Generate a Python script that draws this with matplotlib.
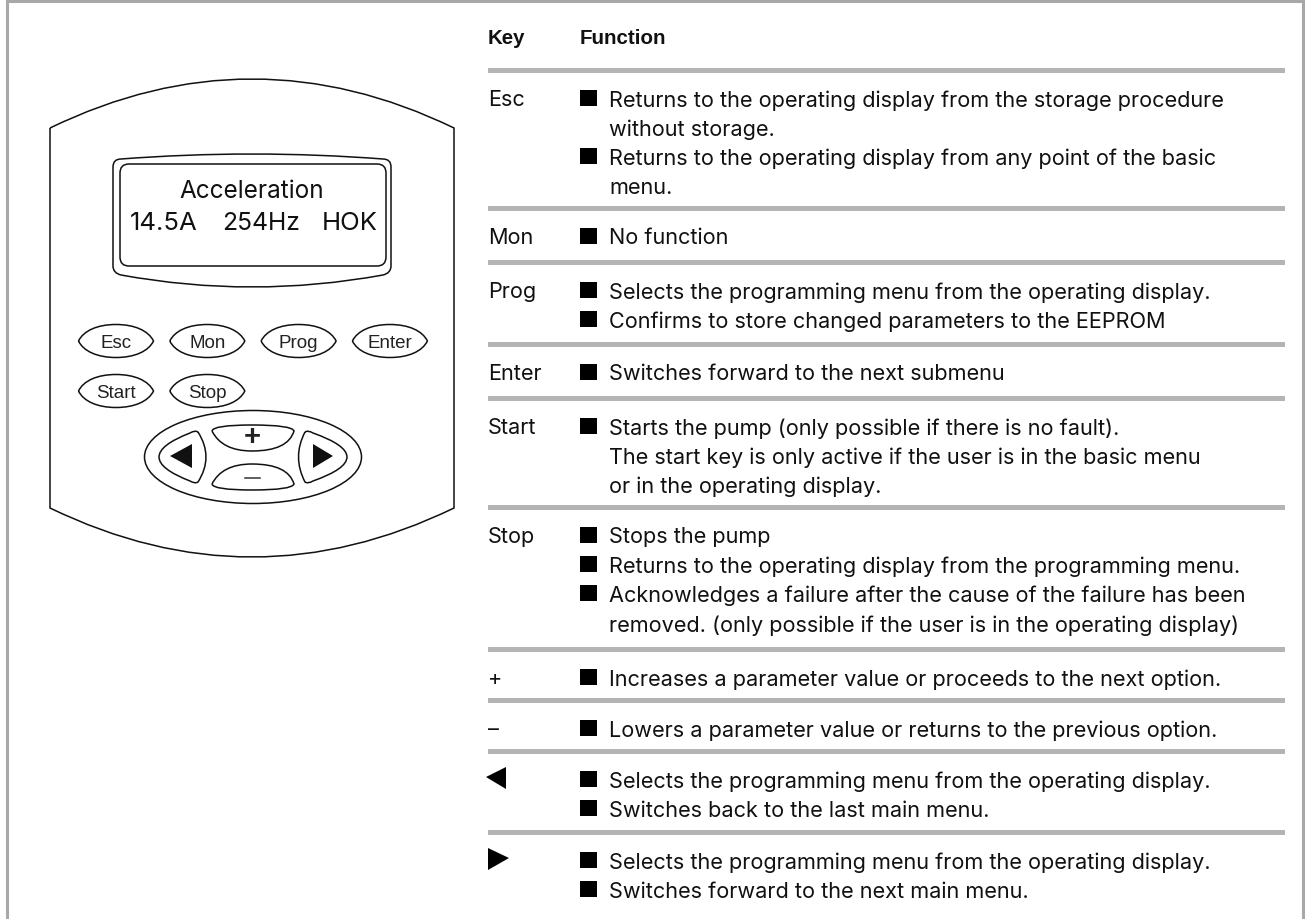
import matplotlib
matplotlib.use('Agg')
import matplotlib.pyplot as plt
from matplotlib.patches import PathPatch, Rectangle, Polygon, Ellipse, FancyBboxPatch
from matplotlib.path import Path

# table content
keys = ['Esc', 'Mon', 'Prog', 'Enter', 'Start', 'Stop', '+', '–', 'left', 'right']
functions = [
    [(1, 'Returns to the operating display from the storage procedure'),
     (0, 'without storage.'),
     (1, 'Returns to the operating display from any point of the basic'),
     (0, 'menu.')],
    [(1, 'No function')],
    [(1, 'Selects the programming menu from the operating display.'),
     (1, 'Confirms to store changed parameters to the EEPROM')],
    [(1, 'Switches forward to the next submenu')],
    [(1, 'Starts the pump (only possible if there is no fault).'),
     (0, 'The start key is only active if the user is in the basic menu'),
     (0, 'or in the operating display.')],
    [(1, 'Stops the pump'),
     (1, 'Returns to the operating display from the programming menu.'),
     (1, 'Acknowledges a failure after the cause of the failure has been'),
     (0, 'removed. (only possible if the user is in the operating display)')],
    [(1, 'Increases a parameter value or proceeds to the next option.')],
    [(1, 'Lowers a parameter value or returns to the previous option.')],
    [(1, 'Selects the programming menu from the operating display.'),
     (1, 'Switches back to the last main menu.')],
    [(1, 'Selects the programming menu from the operating display.'),
     (1, 'Switches forward to the next main menu.')],
]
button_rows = [['Esc', 'Mon', 'Prog', 'Enter'], ['Start', 'Stop']]

# layout in pixels
rule_y = [71, 209, 263, 345, 399, 508, 650, 701, 752, 833]
pitch = 29.3
GREY = '#b4b4b4'
FONT = 'Liberation Sans'
BODY = 'Inter'

fig = plt.figure(figsize=(13.05, 9.2), dpi=100)
ax = fig.add_axes([0, 0, 1, 1])
ax.set_xlim(0, 1305)
ax.set_ylim(920, 0)
ax.axis('off')

# frame, open at the bottom
ax.plot([7, 7, 1303, 1303], [920, 2, 2, 920], color='#a8a8a8', lw=2.2, solid_joinstyle='miter')


def shape(verts, codes, fc='none', lw=1.1):
    ax.add_patch(PathPatch(Path(verts, codes), fc=fc, ec='#111111', lw=lw))


M, C3, C4, L = Path.MOVETO, Path.CURVE3, Path.CURVE4, Path.LINETO

# housing
shape([(50, 129), (252, 31), (454, 129), (454, 509), (252, 607), (50, 509), (50, 129)],
      [M, C3, C3, L, C3, C3, L])

# display
shape([(121, 160), (252, 150), (383, 160), (391, 160), (391, 168), (391, 267),
       (391, 274), (383, 276), (252, 300), (121, 276), (113, 274), (113, 267),
       (113, 168), (113, 160), (121, 160)],
      [M, C3, C3, C3, C3, L, C3, C3, C3, C3, C3, C3, L, C3, C3])
ax.add_patch(FancyBboxPatch((127, 172), 252, 88, boxstyle='round,pad=7,rounding_size=9',
                            fc='none', ec='#111111', lw=1.1))
ax.text(252, 191, 'Acceleration', ha='center', va='center', fontsize=17.5, family=BODY, color='#111111')
ax.text(130, 224, '14.5A', ha='left', va='center', fontsize=18.5, family=BODY, color='#111111')
ax.text(222, 224, '254Hz', ha='left', va='center', fontsize=17.8, family=BODY, color='#111111')
ax.text(378, 224, 'HOK', ha='right', va='center', fontsize=18.5, family=BODY, color='#111111')


# buttons
def button(cx, cy, label):
    w, h = 37.5, 16.5
    shape([(cx - w, cy), (cx - w + 5, cy - h * 0.62), (cx - w * 0.5, cy - h), (cx, cy - h),
           (cx + w * 0.5, cy - h), (cx + w - 5, cy - h * 0.62), (cx + w, cy),
           (cx + w - 5, cy + h * 0.62), (cx + w * 0.5, cy + h), (cx, cy + h),
           (cx - w * 0.5, cy + h), (cx - w + 5, cy + h * 0.62), (cx - w, cy)],
          [M] + [C4] * 12)
    ax.text(cx, cy, label, ha='center', va='center_baseline', fontsize=13.5, family=FONT, color='#222222')


for j, row in enumerate(button_rows):
    for i, label in enumerate(row):
        button(116 + i * 91.3, 342 + j * 50, label)

# navigation pad
ax.add_patch(Ellipse((253, 458), 217, 93, fc='none', ec='#111111', lw=1.1))
shape([(212, 432), (213, 426), (252, 426), (292, 426), (294, 432), (288, 452), (252, 452),
       (222, 452), (212, 432)], [M] + [C3] * 8)
shape([(212, 485), (213, 491), (252, 491), (292, 491), (294, 485), (288, 465), (252, 465),
       (222, 465), (212, 485)], [M] + [C3] * 8)
shape([(198, 433), (214, 458), (198, 483), (195, 485), (190, 482), (159, 470), (159, 458),
       (159, 446), (190, 434), (195, 431), (198, 433)], [M] + [C3] * 10)
shape([(305, 433), (292, 458), (305, 483), (308, 485), (313, 482), (347, 470), (347, 458),
       (347, 446), (313, 434), (308, 431), (305, 433)], [M] + [C3] * 10)
ax.add_patch(Polygon([(170, 457), (192, 445), (192, 469)], fc='#111111', ec='none'))
ax.add_patch(Polygon([(333, 457), (313, 445), (313, 469)], fc='#111111', ec='none'))
ax.text(252, 437, '+', ha='center', va='center', fontsize=21, family=FONT, fontweight='bold', color='#222222')
ax.plot([245, 260], [479, 479], color='#333333', lw=1.1)

# table
ax.text(488, 39, 'Key', ha='left', va='center', fontsize=14.8, family=FONT, fontweight='bold', color='#111111')
ax.text(580, 39, 'Function', ha='left', va='center', fontsize=14.8, family=FONT, fontweight='bold', color='#111111')

for r, key, lines in zip(rule_y, keys, functions):
    ax.add_patch(Rectangle((488, r - 2.5), 797, 5, fc=GREY, ec='none'))
    y0 = r + 27
    if key == 'left':
        ax.add_patch(Polygon([(486, y0 - 1), (506, y0 - 11), (506, y0 + 11)], fc='black', ec='none'))
    elif key == 'right':
        ax.add_patch(Polygon([(509, y0 - 1), (488, y0 - 11), (488, y0 + 11)], fc='black', ec='none'))
    else:
        ax.text(488, y0 + 0.5, key, ha='left', va='center_baseline', fontsize=15.6, family=BODY, color='#111111')
    for n, (bullet, txt) in enumerate(lines):
        y = y0 + n * pitch
        if bullet:
            ax.add_patch(Rectangle((580, y - 7.5), 17, 16, fc='black', ec='none'))
        ax.text(609, y + 0.5, txt, ha='left', va='center_baseline', fontsize=15.6, family=BODY, color='#111111')

fig.savefig('out.png', dpi=100)
